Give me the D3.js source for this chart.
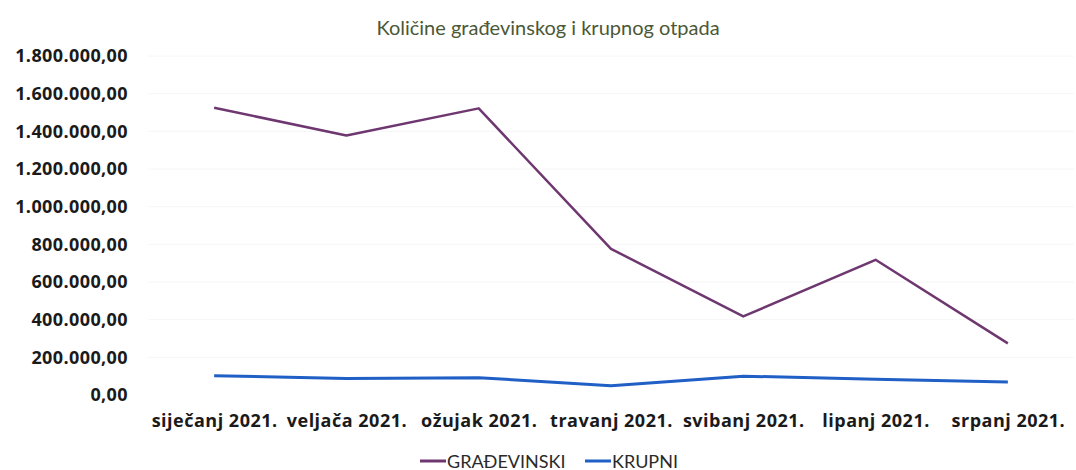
<!DOCTYPE html>
<html>
<head>
<meta charset="utf-8">
<script src="https://cdn.jsdelivr.net/npm/d3@7"></script>
<style>
  html, body { margin: 0; padding: 0; background: #fff; }
  svg { display: block; }
</style>
</head>
<body>
<svg id="chart" width="1076" height="470"></svg>
<script>
const title = "Količine građevinskog i krupnog otpada";
const categories = ["siječanj 2021.", "veljača 2021.", "ožujak 2021.", "travanj 2021.", "svibanj 2021.", "lipanj 2021.", "srpanj 2021."];
const gradevinski = [1525000, 1378000, 1522000, 776000, 417000, 718000, 274000];
const krupni = [102000, 88000, 92000, 49000, 100000, 84000, 69000];
const yTicks = [0, 200000, 400000, 600000, 800000, 1000000, 1200000, 1400000, 1600000, 1800000];
const seriesNames = ["GRAĐEVINSKI", "KRUPNI"];
const seriesColors = ["#6e3770", "#1f5fc6"];

const svg = d3.select("#chart");
const x = d3.scalePoint().domain(categories).range([148, 1074]).padding(0.5);
const y = d3.scaleLinear().domain([0, 1800000]).range([395, 56]);

const fmt = v => {
  const s = d3.format(",.2f")(v);
  return s.replace(/,/g, "#").replace(".", ",").replace(/#/g, ".");
};

// faint gridlines
svg.append("g").selectAll("line").data(yTicks.slice(1)).join("line")
  .attr("x1", 148).attr("x2", 1074)
  .attr("y1", d => y(d)).attr("y2", d => y(d))
  .attr("stroke", "#f6f6f6").attr("stroke-width", 1);

// y axis
const yAxis = svg.append("g").attr("transform", "translate(128,0)")
  .call(d3.axisLeft(y).tickValues(yTicks).tickFormat(fmt).tickSize(0).tickPadding(0));
yAxis.select(".domain").remove();
yAxis.selectAll("text")
  .attr("font-family", "'Open Sans', sans-serif").attr("font-weight", "bold")
  .attr("font-size", 18).attr("letter-spacing", "0.4px").attr("fill", "#1a1a1a");

// x axis
const xAxis = svg.append("g").attr("transform", "translate(0,414)")
  .call(d3.axisBottom(x).tickSize(0).tickPadding(0));
xAxis.select(".domain").remove();
xAxis.selectAll("text")
  .attr("font-family", "'Open Sans', sans-serif").attr("font-weight", "bold")
  .attr("font-size", 18).attr("letter-spacing", "0.5px").attr("fill", "#1a1a1a");

// lines
const line = d3.line().x((d, i) => x(categories[i])).y(d => y(d));
[gradevinski, krupni].forEach((data, k) => {
  svg.append("path").datum(data)
    .attr("fill", "none").attr("stroke", seriesColors[k])
    .attr("stroke-width", k === 0 ? 2.5 : 3)
    .attr("stroke-linejoin", "round")
    .attr("d", line);
});

// title
svg.append("text").attr("x", 548).attr("y", 35).attr("text-anchor", "middle")
  .attr("font-family", "Lato, sans-serif").attr("font-size", 20)
  .attr("fill", "#4b5836").text(title);

// legend
const legendItems = [{x: 420}, {x: 585}];
const lg = svg.append("g");
seriesNames.forEach((name, i) => {
  const g = lg.append("g").attr("transform", `translate(${legendItems[i].x},461)`);
  g.append("line").attr("x1", 0).attr("x2", 26).attr("y1", 0).attr("y2", 0)
    .attr("stroke", seriesColors[i]).attr("stroke-width", 3);
  g.append("text").attr("x", 27).attr("y", 6.5)
    .attr("font-family", "Lato, sans-serif").attr("font-size", 18)
    .attr("fill", "#2a2a2a").text(name);
});
</script>
</body>
</html>
